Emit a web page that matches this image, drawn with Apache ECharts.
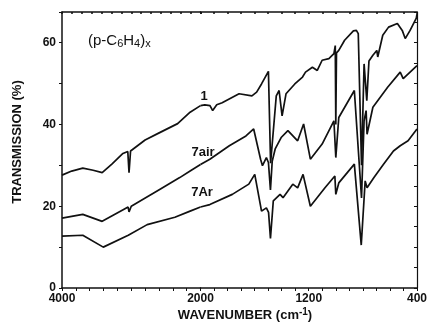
<!DOCTYPE html>
<html><head><meta charset="utf-8">
<script src="https://cdn.jsdelivr.net/npm/echarts@6/dist/echarts.min.js"></script>
<style>html,body{margin:0;padding:0;background:#fff}#c{width:430px;height:325px}</style>
</head><body><div id="c"></div>
<script>
// Curve "1"
const wn1 = [4000,3860,3700,3550,3420,3280,3120,3050,3032,3010,2800,2590,2330,2150,2000,1968,1930,1910,1880,1840,1715,1620,1585,1549,1498,1482,1440,1419,1397,1368,1303,1246,1224,1173,1137,1101,1051,1014,1004,1000,995,978,935,870,848,834,810,791,771,755,726,697,690,653,610,545,509,487,451,405,400];
const tr1 = [27.6,28.6,29.3,28.8,28.2,30.3,32.9,33.4,28.2,33.5,36.2,38.0,40.2,43.0,44.6,44.8,44.6,43.4,44.8,45.3,47.5,47.0,47.9,49.9,53.0,30.5,47.0,48.3,42.1,47.5,49.9,51.6,52.8,54.0,53.2,55.7,56.1,57.3,59.3,40.0,57.5,58.1,60.6,62.9,63.0,62.2,30.0,54.8,45.8,55.5,56.9,58.1,56.5,61.8,63.8,64.7,63.0,61.0,63.0,66.0,67.0];
// Curve "7air"
const wnAir = [4000,3700,3420,3045,3032,3000,2590,2300,2150,2000,1931,1787,1664,1607,1556,1542,1513,1498,1483,1470,1448,1404,1354,1282,1238,1188,1101,1014,1000,978,863,810,791,776,769,726,617,524,502,400];
const trAir = [17.1,18.0,16.3,19.8,18.6,20.0,24.1,27.0,28.6,30.2,31.5,34.8,37.2,38.9,31.5,29.9,31.9,30.7,24.0,31.0,34.0,36.8,38.5,36.0,40.1,31.5,35.2,40.9,31.9,41.7,48.3,22.0,40.9,43.4,37.6,44.2,49.1,52.8,51.2,54.4];
// Curve "7Ar"
const wnAr = [4000,3700,3404,3043,2770,2370,2150,2000,1931,1765,1643,1599,1549,1513,1497,1483,1462,1412,1390,1318,1282,1242,1188,1080,1007,1000,978,863,812,783,769,718,646,574,524,466,400];
const trAr = [12.7,12.9,10.0,12.9,15.5,17.3,18.8,19.8,20.4,22.9,25.4,27.8,18.8,19.6,18.5,12.1,21.3,22.9,22.1,25.4,24.5,27.8,20.0,24.5,27.4,22.9,25.7,30.3,10.5,26.2,24.5,27.0,30.3,33.5,34.8,36.0,38.9];

const xTickLabelsA = [4000, 2000];
const xTickLabelsB = [1200, 400];
const yTickLabels = [0, 20, 40, 60];
const curveLabels = ['1', '7air', '7Ar'];

const chart = echarts.init(document.getElementById('c'), null, {renderer: 'canvas'});
const INK = '#111';
const FONT = 'Liberation Sans';

function part(w, t, hi) {
  const out = [];
  for (let i = 0; i < w.length; i++) {
    if (hi ? w[i] >= 2000 : w[i] <= 2000) out.push([w[i], t[i]]);
  }
  return out;
}
const curves = [[wn1, tr1], [wnAir, trAir], [wnAr, trAr]];
const series = [];
curves.forEach(c => {
  series.push({type: 'line', xAxisIndex: 0, yAxisIndex: 0, data: part(c[0], c[1], true), symbol: 'none', lineStyle: {color: INK, width: 1.7}, animation: false});
  series.push({type: 'line', xAxisIndex: 2, yAxisIndex: 1, data: part(c[0], c[1], false), symbol: 'none', lineStyle: {color: INK, width: 1.7}, animation: false});
});

const axLine = {show: true, onZero: false, lineStyle: {color: INK, width: 1.5}};
const lblStyle = {color: INK, fontFamily: FONT, fontWeight: 'bold', fontSize: 12};

chart.setOption({
  animation: false,
  grid: [
    {left: 62, width: 138.5, top: 12, bottom: 37},
    {left: 200.5, width: 221.5, top: 12, bottom: 37}
  ],
  xAxis: [
    {gridIndex: 0, type: 'value', min: 2000, max: 4000, inverse: true, position: 'bottom', interval: 200,
     axisLine: axLine, axisTick: {show: true, length: 3, lineStyle: {color: INK}}, splitLine: {show: false},
     axisLabel: Object.assign({margin: 5, showMinLabel: true, showMaxLabel: true, formatter: v => xTickLabelsA.includes(v) ? String(v) : ''}, lblStyle)},
    {gridIndex: 0, type: 'value', min: 2000, max: 4000, inverse: true, position: 'top', interval: 2000 / 14,
     axisLine: axLine, axisTick: {show: true, inside: true, length: 2, lineStyle: {color: INK, width: 1.5}}, splitLine: {show: false}, axisLabel: {show: false}},
    {gridIndex: 1, type: 'value', min: 400, max: 2000, inverse: true, position: 'bottom', interval: 100,
     axisLine: axLine, axisTick: {show: true, length: 3, lineStyle: {color: INK}}, splitLine: {show: false},
     axisLabel: Object.assign({margin: 5, showMinLabel: true, showMaxLabel: true, formatter: v => xTickLabelsB.includes(v) ? String(v) : ''}, lblStyle)},
    {gridIndex: 1, type: 'value', min: 400, max: 2000, inverse: true, position: 'top', interval: 100,
     axisLine: axLine, axisTick: {show: true, inside: true, length: 2, lineStyle: {color: INK, width: 1.5}}, splitLine: {show: false}, axisLabel: {show: false}}
  ],
  yAxis: [
    {gridIndex: 0, type: 'value', min: 0, max: 67.5, interval: 10, position: 'left',
     axisLine: axLine, axisTick: {show: true, length: 3, lineStyle: {color: INK}}, splitLine: {show: false},
     axisLabel: Object.assign({margin: 6, formatter: v => yTickLabels.includes(v) ? String(v) : ''}, lblStyle)},
    {gridIndex: 1, type: 'value', min: 0, max: 67.5, interval: 5, position: 'right',
     axisLine: {show: true, onZero: false, lineStyle: {color: INK, width: 1.2}}, axisTick: {show: true, inside: true, length: 3, lineStyle: {color: INK}},
     splitLine: {show: false}, axisLabel: {show: false}}
  ],
  series: series,
  graphic: [
    {type: 'text', left: 88, top: 33, style: {text: '(p-C{s|6}H{s|4}){s|x}', font: '15px "Liberation Sans"', fill: INK,
      rich: {s: {fontSize: 11, fontFamily: FONT, verticalAlign: 'bottom', padding: [6, 0, 0, 0]}}}},
    {type: 'text', x: 204, y: 96, style: {text: curveLabels[0], font: 'bold 13px "Liberation Sans"', fill: INK, textAlign: 'center', textVerticalAlign: 'middle'}},
    {type: 'text', x: 203, y: 152, style: {text: curveLabels[1], font: 'bold 13px "Liberation Sans"', fill: INK, textAlign: 'center', textVerticalAlign: 'middle'}},
    {type: 'text', x: 202, y: 192, style: {text: curveLabels[2], font: 'bold 13px "Liberation Sans"', fill: INK, textAlign: 'center', textVerticalAlign: 'middle'}},
    {type: 'text', x: 17, y: 142, rotation: Math.PI / 2, style: {text: 'TRANSMISSION (%)', font: 'bold 13px "Liberation Sans"', fill: INK, textAlign: 'center', textVerticalAlign: 'middle'}},
    {type: 'text', x: 245, y: 315, style: {text: 'WAVENUMBER (cm{sup|-1})', font: 'bold 13px "Liberation Sans"', fill: INK, textAlign: 'center', textVerticalAlign: 'middle',
      rich: {sup: {fontSize: 10, fontWeight: 'bold', fontFamily: FONT, padding: [0, 0, 6, 0]}}}}
  ]
});
</script>
</body></html>
